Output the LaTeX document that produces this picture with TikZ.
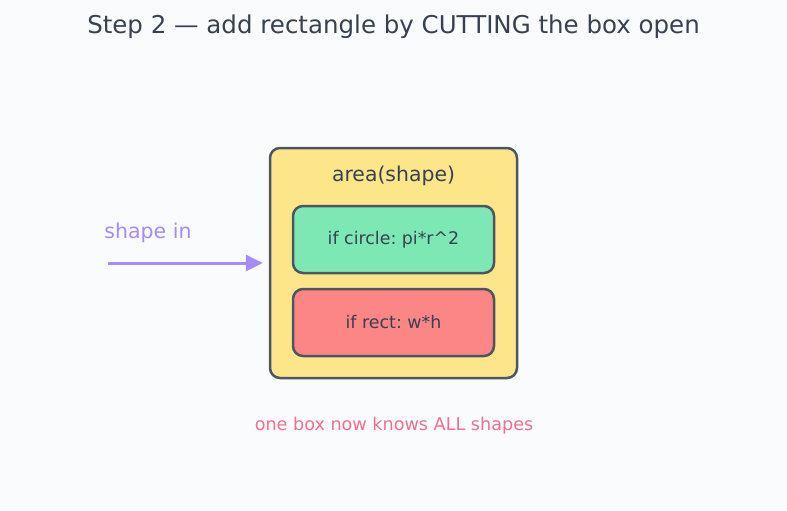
\documentclass[tikz,border=0pt]{standalone}
\usepackage{fontspec}
\setmainfont{DejaVu Sans}
\usetikzlibrary{arrows.meta, positioning}
\frenchspacing

\definecolor{bgpage}{HTML}{FAFBFD}
\definecolor{inkdark}{HTML}{374151}
\definecolor{edgegray}{HTML}{4B5563}
\definecolor{boxyellow}{HTML}{FDE68A}
\definecolor{boxgreen}{HTML}{7EE8B5}
\definecolor{boxred}{HTML}{FC8585}
\definecolor{inpurple}{HTML}{A78BFA}
\definecolor{notepink}{HTML}{F0708E}

\tikzset{
    outerbox/.style={draw=edgegray, line width=2.5pt, fill=boxyellow, rounded corners=10pt,
        minimum width=247pt, minimum height=230pt},
    casebox/.style={draw=edgegray, line width=2.5pt, rounded corners=10pt,
        minimum width=201pt, minimum height=67pt, text=inkdark, font=\fontsize{17.4}{20}\selectfont},
}

\begin{document}
\begin{tikzpicture}[x=1pt, y=-1pt]

% ── background / bounds ─────────────────────────────────
\fill[bgpage] (0,0) rectangle (787,511);
\useasboundingbox (0,0) rectangle (787,511);

% title
\node[text=inkdark, font=\fontsize{24.5}{28}\selectfont] (title) at (393.5,27) {Step 2 — add rectangle by CUTTING the box open};

% ── the one box ─────────────────────────────────────────
\node[outerbox] (areabox) at (393.5,263) {};
\node[text=inkdark, font=\fontsize{20.4}{24}\selectfont] (arealabel) at (393.5,176) {area(shape)};

\node[casebox, fill=boxgreen] (circlecase) at (393.5,239.5) {if circle: pi*r\textasciicircum 2};
\node[casebox, fill=boxred] (rectcase) at (393.5,322.5) {if rect: w*h};

% input arrow
\coordinate (instart) at (108,263);
\draw[-{Triangle[length=17pt, width=16pt]}, inpurple, line width=3pt, shorten >=6pt] (instart) -- (areabox.west);
\node[text=inpurple, font=\fontsize{20.5}{24}\selectfont] (inlabel) at (148,233) {shape in};

% note
\node[text=notepink, font=\fontsize{17.6}{21}\selectfont] (note) at (394,426) {one box now knows ALL shapes};

\end{tikzpicture}
\end{document}
